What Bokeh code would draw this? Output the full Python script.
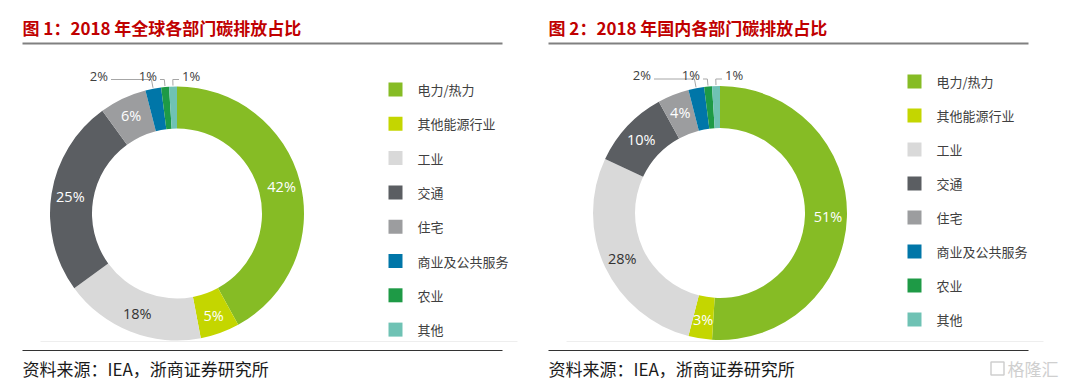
import math
from bokeh.plotting import figure
from bokeh.models import ColumnDataSource, Range1d
from bokeh.core.properties import value
from bokeh.embed import file_html
from bokeh.resources import INLINE

# ---------------- data ----------------
categories = ["电力/热力", "其他能源行业", "工业", "交通", "住宅", "商业及公共服务", "农业", "其他"]
global_share = [42, 5, 18, 25, 6, 2, 1, 1]
china_share = [51, 3, 28, 10, 4, 2, 1, 1]
colors = ["#86BC25", "#C4D600", "#D9D9D9", "#5B5E62", "#9C9D9F", "#0076A8", "#1E9A46", "#6FC2B4"]
inner_label_colors = ["white", "white", "#333333", "white", "white", "white", "white", "white"]
titles = ["图  1：2018 年全球各部门碳排放占比", "图  2：2018 年国内各部门碳排放占比"]
source_note = "资料来源：IEA，浙商证券研究所"
watermark = "格隆汇"

# ---------------- layout ----------------
W, H = 1080, 383
p = figure(width=W, height=H, x_range=Range1d(0, W), y_range=Range1d(-H, 0),
           output_backend="svg", toolbar_location=None, x_axis_type=None, y_axis_type=None,
           min_border=0)
p.outline_line_color = None
p.background_fill_color = "white"
p.border_fill_color = "white"

panels = [
    dict(shares=global_share, title=titles[0], x0=22, x1=502, cx=176.5, cy=213.0,
         leg_x=395, leg_y0=89, leg_step=34.3),
    dict(shares=china_share, title=titles[1], x0=548, x1=1028, cx=719.5, cy=212.5,
         leg_x=914, leg_y0=81, leg_step=34.0),
]

R_IN, R_OUT, R_LAB = 85, 127, 108
small_dx = [-69, -20, 5]
small_align = ["right", "right", "left"]

CJK = value("Noto Sans CJK SC")
LAT = value("Open Sans")

for pn in panels:
    shares = pn["shares"]
    cx, cy = pn["cx"], pn["cy"]
    total = float(sum(shares))
    starts, ends, mids = [], [], []
    cum = 0.0
    for s in shares:
        a0 = math.pi / 2 - 2 * math.pi * cum / total
        cum += s
        a1 = math.pi / 2 - 2 * math.pi * cum / total
        starts.append(a0)
        ends.append(a1)
        mids.append((a0 + a1) / 2)

    src = ColumnDataSource(dict(start=starts, end=ends, color=colors))
    p.annular_wedge(x=cx, y=-cy, inner_radius=R_IN, outer_radius=R_OUT,
                    start_angle="start", end_angle="end", direction="clock",
                    fill_color="color", line_color=None, source=src)

    # inner labels
    ix, iy, it, ic = [], [], [], []
    small = []
    for i, s in enumerate(shares):
        if s >= 3:
            ix.append(cx + R_LAB * math.cos(mids[i]))
            iy.append(-(cy - R_LAB * math.sin(mids[i])))
            it.append(f"{s}%")
            ic.append(inner_label_colors[i])
        else:
            small.append(i)
    p.text(x="x", y="y", text="t", text_color="c",
           source=ColumnDataSource(dict(x=ix, y=iy, t=it, c=ic)),
           text_font=LAT, text_font_size=value("14.5px"),
           text_align="center", text_baseline="middle")

    # outer labels with leader lines
    for k, i in enumerate(small):
        th = mids[i]
        x_s = cx + (R_OUT + 1) * math.cos(th)
        y_s = cy - (R_OUT + 1) * math.sin(th)
        y_e = cy - 134
        r_e = 134 / math.sin(th)
        x_e = cx + r_e * math.cos(th)
        ax = cx + small_dx[k]
        gap = 3 if small_align[k] == "right" else -3
        p.line(x=[x_s, x_e, ax + gap], y=[-y_s, -y_e, -y_e], line_color="#a6a6a6", line_width=1)
        p.text(x=[ax], y=[-(cy - 138)], text=[f"{shares[i]}%"], text_color="#404040",
               text_font=LAT, text_font_size=value("13px"),
               text_align=small_align[k], text_baseline="middle")

    # legend
    ly = [-(pn["leg_y0"] + j * pn["leg_step"]) for j in range(len(categories))]
    p.scatter(x=[pn["leg_x"]] * len(categories), y=ly, marker="square", size=14,
              fill_color=colors, line_color=None)
    p.text(x=[pn["leg_x"] + 22] * len(categories), y=ly, text=categories, text_color="#404040",
           text_font=CJK, text_font_size=value("13px"), text_align="left", text_baseline="middle")

    # title and rules
    p.text(x=[pn["x0"]], y=[-27], text=[pn["title"]], text_color="#C00000",
           text_font=CJK, text_font_size=value("17px"), text_font_style="bold",
           text_align="left", text_baseline="middle")
    p.line(x=[pn["x0"], pn["x1"]], y=[-43, -43], line_color="#808080", line_width=2)
    p.line(x=[pn["x0"] + 18, pn["x1"] + 15], y=[-341, -341], line_color="#eeeeee", line_width=1)
    p.line(x=[pn["x0"], pn["x1"]], y=[-350, -350], line_color="#333333", line_width=1.2)
    p.text(x=[pn["x0"]], y=[-368], text=[source_note], text_color="#1a1a1a",
           text_font=CJK, text_font_size=value("17px"), text_align="left", text_baseline="middle")

# watermark
p.rect(x=[997], y=[-368], width=13, height=13, fill_color=None, line_color="#cfcfcf", line_width=1.5)
p.text(x=[1007], y=[-368], text=[watermark], text_color="#cfcfcf", text_font=CJK,
       text_font_size=value("17px"), text_align="left", text_baseline="middle")

open("out.html", "w").write(file_html(p, INLINE))
